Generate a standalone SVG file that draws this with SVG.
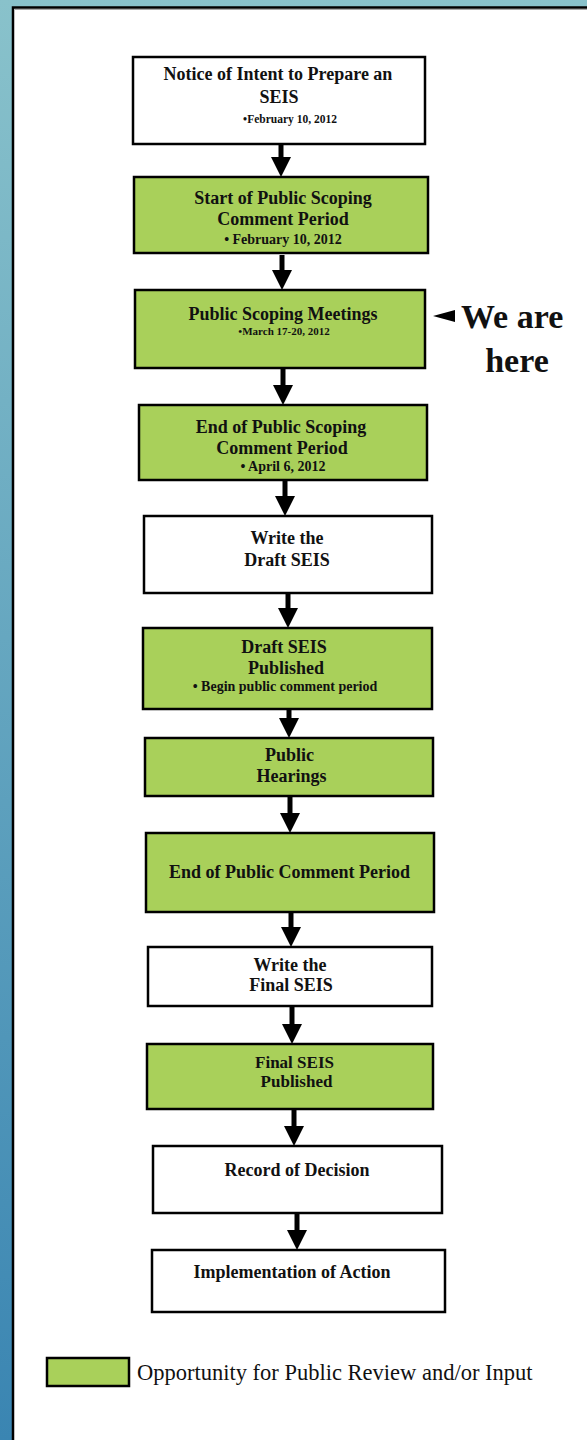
<svg xmlns="http://www.w3.org/2000/svg" width="587" height="1440" viewBox="0 0 587 1440">
<defs>
<linearGradient id="bg" x1="0" y1="0" x2="0" y2="1">
<stop offset="0" stop-color="#89C2CB"/>
<stop offset="1" stop-color="#3A85B2"/>
</linearGradient>
<marker id="ah" markerUnits="userSpaceOnUse" markerWidth="20" markerHeight="20" refX="2" refY="10" orient="auto" viewBox="0 0 20 20">
<path d="M0,0 L20,10 L0,20 Z" fill="#000"/>
</marker>
</defs>
<style>
.w{fill:#fff;stroke:#000;stroke-width:2.5}
.g{fill:#A9D05A;stroke:#000;stroke-width:2.5}
.t{font-family:"Liberation Serif","Times New Roman",serif;font-weight:bold;font-size:18px;text-anchor:middle;fill:#111}
.s{font-family:"Liberation Serif","Times New Roman",serif;font-weight:bold;font-size:14px;text-anchor:middle;fill:#111}
.c line{stroke:#000;stroke-width:5;marker-end:url(#ah)}
.h{font-family:"Liberation Serif","Times New Roman",serif;font-weight:bold;font-size:34px;fill:#111}
</style>
<rect x="0" y="0" width="587" height="1440" fill="url(#bg)"/>
<rect x="13" y="7.5" width="580" height="1440" fill="#fff" stroke="#000" stroke-width="2.5"/>
<line x1="15" y1="9.5" x2="587" y2="9.5" stroke="#aaa" stroke-width="1"/>

<g class="c" id="connectors">
<line x1="281" y1="145" x2="281" y2="159"/>
<line x1="282" y1="255" x2="282" y2="272"/>
<line x1="283" y1="369" x2="283" y2="387"/>
<line x1="285" y1="481" x2="285" y2="498"/>
<line x1="288" y1="594" x2="288" y2="610"/>
<line x1="289" y1="710" x2="289" y2="720"/>
<line x1="290" y1="797" x2="290" y2="815"/>
<line x1="291" y1="913" x2="291" y2="929"/>
<line x1="292" y1="1007" x2="292" y2="1026"/>
<line x1="294" y1="1110" x2="294" y2="1128"/>
<line x1="297" y1="1214" x2="297" y2="1232"/>
</g>

<g id="n1">
<rect class="w" x="133" y="57" width="292" height="87"/>
<text class="t" x="278" y="80">Notice of Intent to Prepare an</text>
<text class="t" x="279" y="102.5">SEIS</text>
<text class="s" x="290" y="123" style="font-size:11.5px">•February 10, 2012</text>
</g>
<g id="n2">
<rect class="g" x="134" y="177" width="294" height="76"/>
<text class="t" x="283" y="204">Start of Public Scoping</text>
<text class="t" x="283" y="225">Comment Period</text>
<text class="s" x="283" y="244">• February 10, 2012</text>
</g>
<g id="n3">
<rect class="g" x="135" y="290" width="290" height="78"/>
<text class="t" x="283" y="320">Public Scoping Meetings</text>
<text class="s" x="284" y="335" style="font-size:11px">•March 17-20, 2012</text>
</g>
<g id="here">
<path d="M433,316 L455,310 L455,322 Z" fill="#000"/>
<text class="h" x="461" y="328">We are</text>
<text class="h" x="517" y="372" text-anchor="middle">here</text>
</g>
<g id="n4">
<rect class="g" x="139" y="405" width="288" height="75"/>
<text class="t" x="281" y="433">End of Public Scoping</text>
<text class="t" x="282" y="454">Comment Period</text>
<text class="s" x="283" y="471">• April 6, 2012</text>
</g>
<g id="n5">
<rect class="w" x="144" y="516" width="288" height="77"/>
<text class="t" x="287" y="544">Write the</text>
<text class="t" x="287" y="565.5">Draft SEIS</text>
</g>
<g id="n6">
<rect class="g" x="143" y="628" width="289" height="81"/>
<text class="t" x="284" y="653">Draft SEIS</text>
<text class="t" x="286" y="674">Published</text>
<text class="s" x="285" y="691">• Begin  public comment period</text>
</g>
<g id="n7">
<rect class="g" x="145" y="738" width="288" height="58"/>
<text class="t" x="289.5" y="761">Public</text>
<text class="t" x="291.5" y="782">Hearings</text>
</g>
<g id="n8">
<rect class="g" x="146" y="833" width="288" height="79"/>
<text class="t" x="289.5" y="878">End of Public Comment Period</text>
</g>
<g id="n9">
<rect class="w" x="148" y="947" width="284" height="59"/>
<text class="t" x="290" y="971">Write the</text>
<text class="t" x="291" y="991">Final SEIS</text>
</g>
<g id="n10">
<rect class="g" x="147" y="1044" width="286" height="65"/>
<text class="t" x="294.5" y="1067.5" style="font-size:17px">Final SEIS</text>
<text class="t" x="296.5" y="1087" style="font-size:17px">Published</text>
</g>
<g id="n11">
<rect class="w" x="153" y="1146" width="289" height="67"/>
<text class="t" x="297" y="1176">Record of Decision</text>
</g>
<g id="n12">
<rect class="w" x="152" y="1250" width="293" height="62"/>
<text class="t" x="292" y="1278">Implementation of Action</text>
</g>
<g id="legend">
<rect class="g" x="47" y="1358" width="82" height="28"/>
<text x="137" y="1380" style="font-family:'Liberation Serif','Times New Roman',serif;font-size:22.5px;fill:#111">Opportunity for Public Review and/or Input</text>
</g>
</svg>
